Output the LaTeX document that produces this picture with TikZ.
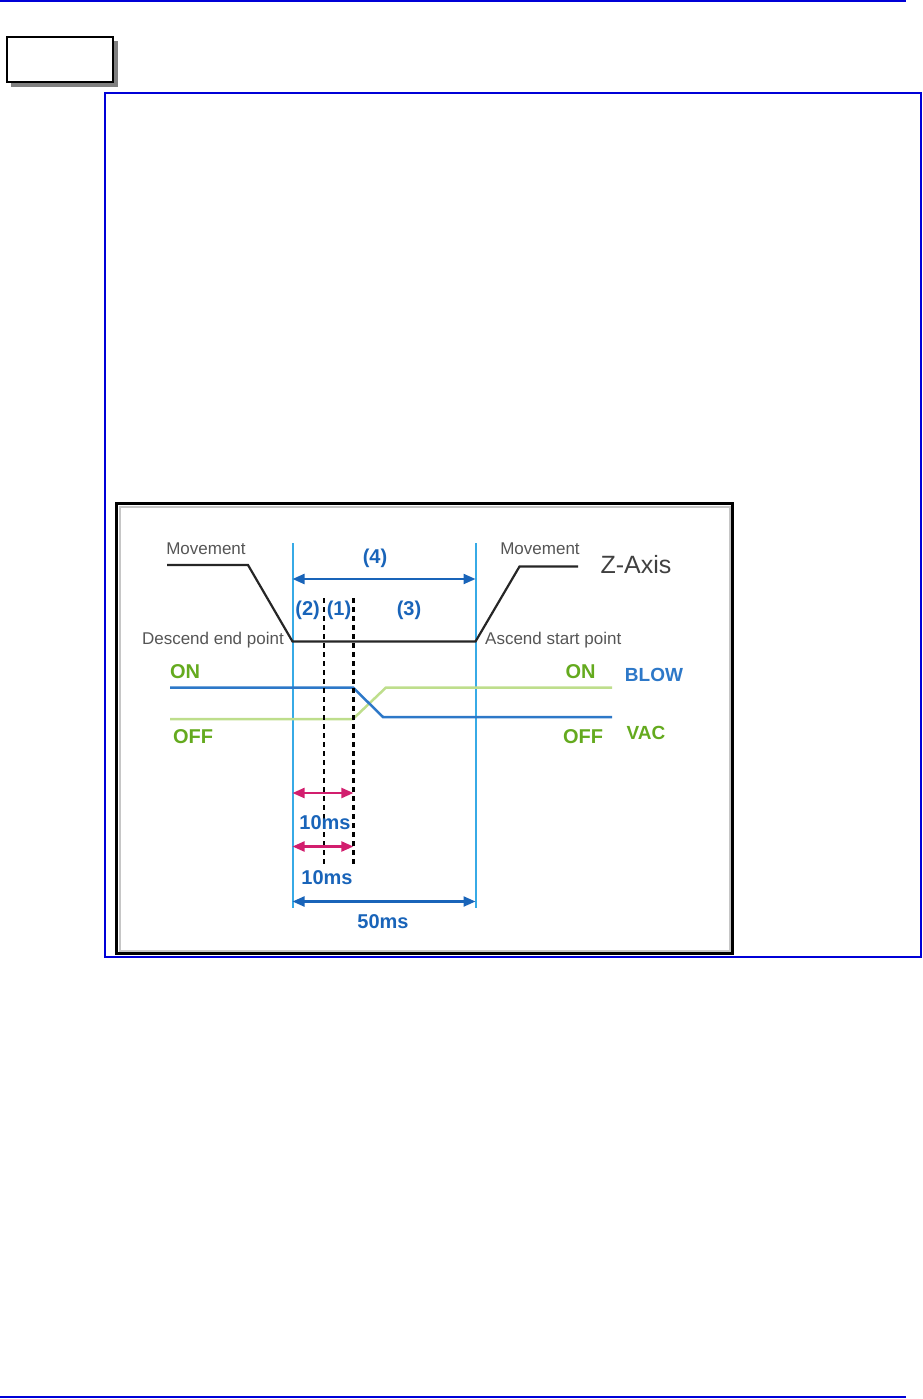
\documentclass[tikz,border=0pt]{standalone}
\usepackage{fontspec}
\setmainfont{Liberation Sans}
\usepackage{xcolor}
\usetikzlibrary{arrows.meta, positioning, calc}

\definecolor{pageblue}{RGB}{0,0,215}
\definecolor{guideblue}{RGB}{55,170,230}
\definecolor{darkblue}{RGB}{25,100,185}
\definecolor{sigblue}{RGB}{45,120,200}
\definecolor{sigvac}{RGB}{190,222,140}
\definecolor{labelgreen}{RGB}{100,170,30}
\definecolor{spanpink}{RGB}{210,30,110}
\definecolor{labelgrey}{RGB}{85,85,85}

\begin{document}
\begin{tikzpicture}[x=1pt, y=-1pt,
  greylbl/.style={font=\fontsize{17}{17}\selectfont, text=labelgrey, inner sep=0pt},
  numlbl/.style={font=\fontsize{20}{20}\selectfont\bfseries, text=darkblue, inner sep=0pt},
  onofflbl/.style={font=\fontsize{20}{20}\selectfont\bfseries, text=labelgreen, inner sep=0pt},
  guide/.style={guideblue, line width=2pt},
  trace/.style={black!85, line width=2.2pt},
  marker/.style={black, line width=2pt, dash pattern=on 5pt off 4pt},
  span/.style={line width=2.2pt, {Triangle[length=12pt,width=10pt]}-{Triangle[length=12pt,width=10pt]}}
]
\useasboundingbox (0,0) rectangle (922,1399);

% page rules and frames
\draw[pageblue, line width=2pt] (0,1) -- (906,1);
\draw[pageblue, line width=2pt] (0,1397) -- (906,1397);
\fill[gray] (11,41) rectangle (118,87);
\draw[black, line width=1.6pt, fill=white] (7,37) rectangle (113,82);
\draw[pageblue, line width=1.2pt] (105,93) rectangle (921,957);
\draw[gray!45, line width=2pt] (119.5,506.5) rectangle (729.5,950.5);
\draw[black, line width=2.5pt] (116.5,503.5) rectangle (732.5,953.5);

% coordinates of the timing chart
\coordinate (gLtop) at (292.5,543);  \coordinate (gLbot) at (292.5,908);
\coordinate (gRtop) at (475.5,543);  \coordinate (gRbot) at (475.5,908);
\coordinate (z1) at (167,565);   \coordinate (z2) at (248,565);
\coordinate (z3) at (292.5,641.5); \coordinate (z4) at (475.5,641.5);
\coordinate (z5) at (519.5,566.5); \coordinate (z6) at (578,566.5);

% guide lines
\draw[guide] (gLtop) -- (gLbot);
\draw[guide] (gRtop) -- (gRbot);

% Z-axis movement
\draw[trace] (z1) -- (z2) -- (z3) -- (z4) -- (z5) -- (z6);

% VAC and BLOW signals
\coordinate (v1) at (170,719);   \coordinate (v2) at (353,719);
\coordinate (v3) at (386,687.5); \coordinate (v4) at (612,687.5);
\coordinate (b1) at (170,687.5); \coordinate (b2) at (353,687.5);
\coordinate (b3) at (383,717);   \coordinate (b4) at (612,717);
\draw[sigvac, line width=2.5pt] (v1) -- (v2) -- (v3) -- (v4);
\draw[sigblue, line width=2.5pt] (b1) -- (b2) -- (b3) -- (b4);

% dashed markers
\coordinate (m2top) at (324,598);   \coordinate (m2bot) at (324,865);
\coordinate (m1top) at (353.4,598); \coordinate (m1bot) at (353.4,867);
\draw[marker] (m2top) -- (m2bot);
\draw[marker, line width=2.8pt] (m1top) -- (m1bot);

% spans
\coordinate (s4L) at (292.5,579);   \coordinate (s4R) at (475.5,579);
\coordinate (t1L) at (292.5,793);   \coordinate (t1R) at (353.4,793);
\coordinate (t2L) at (292.5,846.5); \coordinate (t2R) at (353.4,846.5);
\coordinate (t5L) at (292.5,901.5); \coordinate (t5R) at (475.5,901.5);
\draw[span, darkblue] (s4L) -- (s4R);
\draw[span, spanpink] (t1L) -- (t1R);
\draw[span, spanpink] (t2L) -- (t2R);
\draw[span, darkblue] (t5L) -- (t5R);

% labels
\node[greylbl] (moveL) at (206,549) {Movement};
\node[greylbl] (moveR) at (540,549) {Movement};
\node[greylbl, anchor=east] (descend) at (284,640) {Descend end point};
\node[greylbl, anchor=west] (ascend) at (485,640) {Ascend start point};
\node[font=\fontsize{25}{25}\selectfont, text=black!75, inner sep=0pt] (zaxis) at (636,565) {Z-Axis};
\foreach \nm/\x/\y/\txt in {n4/375/558/{(4)}, n2/307.6/610/{(2)}, n1/339/610/{(1)}, n3/409/610/{(3)},
    tenA/325/822.5/{10ms}, tenB/327/878/{10ms}, fifty/383/921.5/{50ms}} {
  \node[numlbl] (\nm) at (\x,\y) {\txt};
}
\node[onofflbl] (onL) at (185,671.5) {ON};
\node[onofflbl] (onR) at (580.5,671.5) {ON};
\node[onofflbl] (offL) at (193,737) {OFF};
\node[onofflbl] (offR) at (583,737) {OFF};
\node[onofflbl, text=sigblue, font=\fontsize{19}{19}\selectfont\bfseries] (blow) at (654,675) {BLOW};
\node[onofflbl, font=\fontsize{19}{19}\selectfont\bfseries] (vac) at (646,733) {VAC};
\end{tikzpicture}
\end{document}
